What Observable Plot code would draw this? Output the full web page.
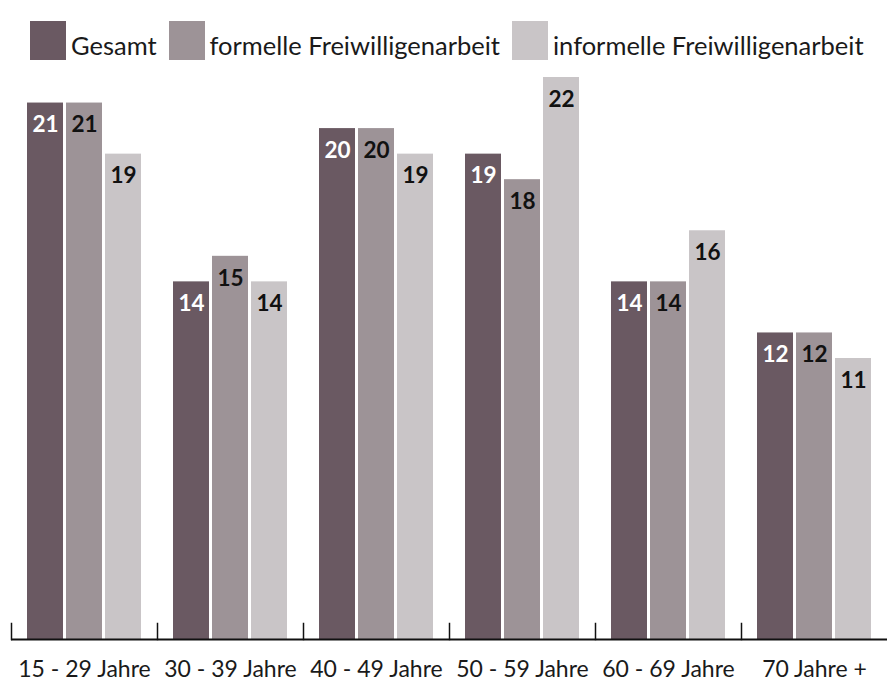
<!DOCTYPE html>
<html>
<head>
<meta charset="utf-8">
<script src="https://cdn.jsdelivr.net/npm/d3@7"></script>
<script src="https://cdn.jsdelivr.net/npm/@observablehq/plot@0.6"></script>
<style>
  body { margin: 0; background: #fff; font-family: Lato, sans-serif; }
  #legend { height: 60px; box-sizing: border-box; padding: 14px 0 0 30px; display: flex; align-items: flex-end; font-size: 25.5px; color: #1a1a1a; }
  .sw { display: inline-block; width: 36px; height: 39px; margin-right: 5px; }
  .item { display: flex; align-items: flex-end; margin-right: 12px; }
  .lbl { line-height: 1; margin-bottom: 2px; white-space: nowrap; }
</style>
</head>
<body>
<div id="legend"></div>
<div id="chart"></div>
<script>
const groups = ["15 - 29 Jahre", "30 - 39 Jahre", "40 - 49 Jahre", "50 - 59 Jahre", "60 - 69 Jahre", "70 Jahre +"];
const series = ["Gesamt", "formelle Freiwilligenarbeit", "informelle Freiwilligenarbeit"];
const gesamt = [21, 14, 20, 19, 14, 12];
const formell = [21, 15, 20, 18, 14, 12];
const informell = [19, 14, 19, 22, 16, 11];
const colors = ["#6a5962", "#9d9397", "#c9c5c7"];

const valuesBySeries = [gesamt, formell, informell];
const data = [];
groups.forEach((g, i) => series.forEach((s, j) => data.push({group: g, series: s, value: valuesBySeries[j][i]})));

const legend = document.getElementById("legend");
series.forEach((s, j) => {
  const item = document.createElement("div");
  item.className = "item";
  const sw = document.createElement("span");
  sw.className = "sw";
  sw.style.background = colors[j];
  const t = document.createElement("span");
  t.className = "lbl";
  t.textContent = s;
  item.appendChild(sw);
  item.appendChild(t);
  legend.appendChild(item);
});

const chart = Plot.plot({
  width: 887,
  height: 622,
  marginLeft: 10,
  marginRight: 0,
  marginTop: 17,
  marginBottom: 43,
  style: {fontFamily: "Lato, sans-serif", background: "white", overflow: "visible"},
  fx: {domain: groups, paddingInner: 0, paddingOuter: 0, label: null},
  x: {domain: series, paddingInner: 0.08, paddingOuter: 0.41, axis: null},
  y: {domain: [0, 22], axis: null},
  color: {domain: series, range: colors},
  marks: [
    Plot.barY(data, {fx: "group", x: "series", y: "value", fill: "series"}),
    Plot.text(data, {filter: d => d.series === "Gesamt", fx: "group", x: "series", y: "value", text: "value", dy: 22, fill: "white", fontWeight: "bold", fontSize: 22.5}),
    Plot.text(data, {filter: d => d.series !== "Gesamt", fx: "group", x: "series", y: "value", text: "value", dy: 22, fill: "#111", fontWeight: "bold", fontSize: 22.5}),
    Plot.ruleY([0], {stroke: "#111", strokeWidth: 2}),
    Plot.frame({anchor: "left", insetTop: 546, stroke: "#111", strokeWidth: 1.5}),
    Plot.axisFx({anchor: "bottom", tickSize: 0, tickPadding: 21, fontSize: 23, fill: "#1a1a1a", label: null})
  ]
});
document.getElementById("chart").appendChild(chart);
</script>
</body>
</html>
